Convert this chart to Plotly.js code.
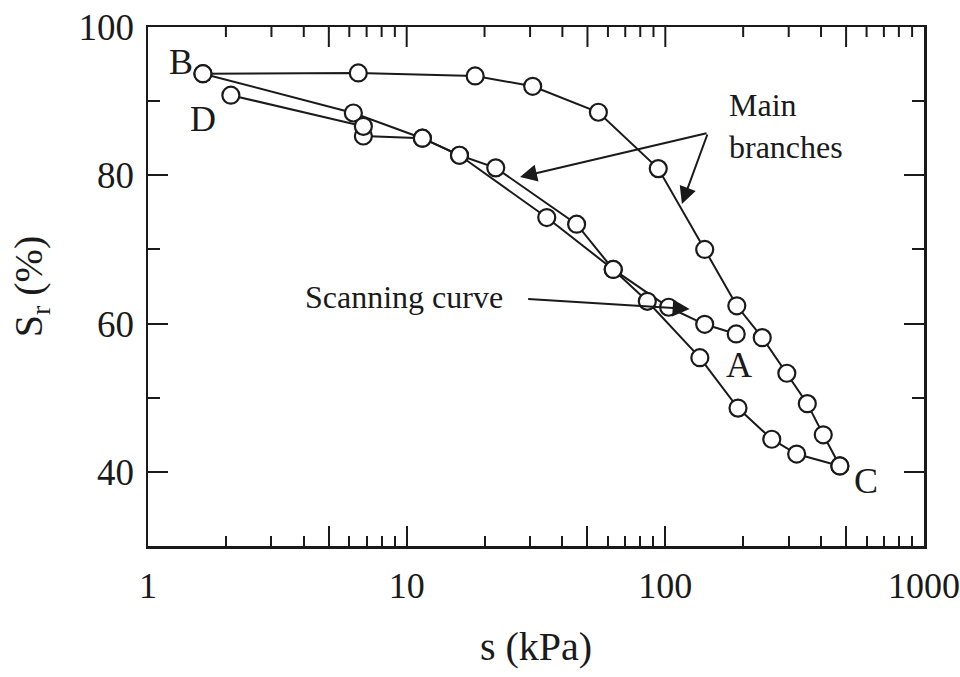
<!DOCTYPE html>
<html>
<head>
<meta charset="utf-8">
<script src="https://cdn.plot.ly/plotly-3.0.1.min.js"></script>
<style>html,body{margin:0;padding:0;background:#fff;}#chart{width:960px;height:677px;}</style>
</head>
<body>
<div id="chart"></div>
<script>
// Main drying branch B -> C
const dryS  = [1.63, 6.50, 18.4, 30.7, 55.1, 93.9, 142, 189, 237, 295, 354, 408, 473];
const drySr = [93.7, 93.8, 93.4, 92.0, 88.5, 80.9, 70.0, 62.4, 58.1, 53.3, 49.2, 45.0, 40.8];

// Main wetting branch C -> D
const wetS  = [473, 322, 258, 191, 136, 85.2, 62.9, 34.8, 16.0, 11.5, 6.80, 6.80, 2.09];
const wetSr = [40.8, 42.4, 44.4, 48.6, 55.4, 63.0, 67.3, 74.3, 82.7, 85.0, 85.3, 86.6, 90.8];

// Scanning curve A -> B
const scanS  = [188, 142, 103, 62.9, 45.4, 22.1, 16.0, 11.5, 6.22, 1.63];
const scanSr = [58.6, 59.9, 62.2, 67.3, 73.4, 81.0, 82.7, 85.0, 88.4, 93.7];

const xMajor = [1, 5, 10, 50, 100, 500, 1000];
const xMajorText = ['1', '', '10', '', '100', '', '1000'];
const xMinor = [2, 3, 4, 6, 7, 8, 9, 20, 30, 40, 60, 70, 80, 90, 200, 300, 400, 600, 700, 800, 900];
const yMajor = [40, 60, 80, 100];
const yMinor = [50, 70, 90];

const FONT = 'Liberation Serif, Times New Roman, serif';
const INK = '#1a1a1a';
const XRANGE = [-0.0002, 3.0002];
const YRANGE = [30, 100];
const W = 960, H = 677, M = {l: 148, r: 36, t: 27, b: 131};
const PLOT_H = H - M.t - M.b;

function curve(xs, ys) {
  return {
    x: xs, y: ys, type: 'scatter', mode: 'lines+markers',
    line: {color: INK, width: 2},
    marker: {symbol: 'circle', size: 17, color: '#fff', line: {color: INK, width: 2.2}},
    showlegend: false, hoverinfo: 'skip'
  };
}

const data = [curve(scanS, scanSr), curve(wetS, wetSr), curve(dryS, drySr)];

function label(txt, x, y, opts) {
  return Object.assign({
    text: txt, xref: 'paper', yref: 'paper', x: x, y: y,
    showarrow: false, font: {family: FONT, size: 32, color: INK},
    xanchor: 'center', yanchor: 'middle'
  }, opts || {});
}
function arrow(x, y, ax, ay) {
  return {
    text: '', xref: 'paper', yref: 'paper', x: x, y: y, ax: ax, ay: ay,
    showarrow: true, arrowhead: 2, arrowsize: 1.7, arrowwidth: 2, arrowcolor: INK,
    standoff: 0, startstandoff: 0
  };
}

const annotations = [
  label('B', 0.0425, 0.9326, {font: {family: FONT, size: 36, color: INK}}),
  label('D', 0.0709, 0.8227, {font: {family: FONT, size: 36, color: INK}}),
  label('A', 0.7616, 0.3487, {font: {family: FONT, size: 36, color: INK}}),
  label('C', 0.9253, 0.1252, {font: {family: FONT, size: 36, color: INK}}),
  label('Main<br>branches', 0.746, 0.809, {xanchor: 'left', align: 'left'}),
  label('Scanning curve', 0.1997, 0.4798, {xanchor: 'left'}),
  arrow(0.4794, 0.711, 188, -44),
  arrow(0.688, 0.659, 26, -71),
  arrow(0.698, 0.4566, -163, -10)
];

// top-edge tick marks (mirror of the log x axis), placed from the tick value arrays
function topTick(v, len) {
  const fx = (Math.log10(v) - XRANGE[0]) / (XRANGE[1] - XRANGE[0]);
  return {
    type: 'line', layer: 'above', xref: 'paper', yref: 'paper',
    x0: fx, x1: fx, y0: 1, y1: 1 - len / PLOT_H,
    line: {color: INK, width: 2}
  };
}
const shapes = xMajor.slice(1, -1).map(v => topTick(v, 20)).concat(xMinor.map(v => topTick(v, 10)));

const layout = {
  width: W, height: H,
  margin: M,
  paper_bgcolor: '#fff', plot_bgcolor: '#fff',
  font: {family: FONT, color: INK},
  xaxis: {
    type: 'log', range: XRANGE, autorange: false,
    tickmode: 'array', tickvals: xMajor, ticktext: xMajorText,
    ticks: 'inside', ticklen: 20, tickwidth: 2, tickcolor: INK,
    minor: {tickmode: 'array', tickvals: xMinor, ticks: 'inside', ticklen: 10, tickwidth: 2, tickcolor: INK, showgrid: false},
    showline: true, linewidth: 2.5, linecolor: INK, mirror: true,
    showgrid: false, zeroline: false,
    tickfont: {family: FONT, size: 36, color: INK},
    ticklabelstandoff: 6, ticklabeloverflow: 'allow',
    title: {text: 's (kPa)', font: {family: FONT, size: 40, color: INK}, standoff: 28}
  },
  yaxis: {
    range: YRANGE, autorange: false,
    tickmode: 'array', tickvals: yMajor,
    ticks: 'inside', ticklen: 20, tickwidth: 2, tickcolor: INK,
    minor: {tickmode: 'array', tickvals: yMinor, ticks: 'inside', ticklen: 12, tickwidth: 2, tickcolor: INK, showgrid: false},
    showline: true, linewidth: 2.5, linecolor: INK, mirror: 'allticks',
    showgrid: false, zeroline: false,
    tickfont: {family: FONT, size: 37, color: INK},
    ticklabelstandoff: 4,
    title: {text: 'S<sub>r</sub> (%)', font: {family: FONT, size: 40, color: INK}, standoff: 24}
  },
  shapes: shapes,
  annotations: annotations
};

Plotly.newPlot('chart', data, layout, {staticPlot: true, displayModeBar: false});
</script>
</body>
</html>
